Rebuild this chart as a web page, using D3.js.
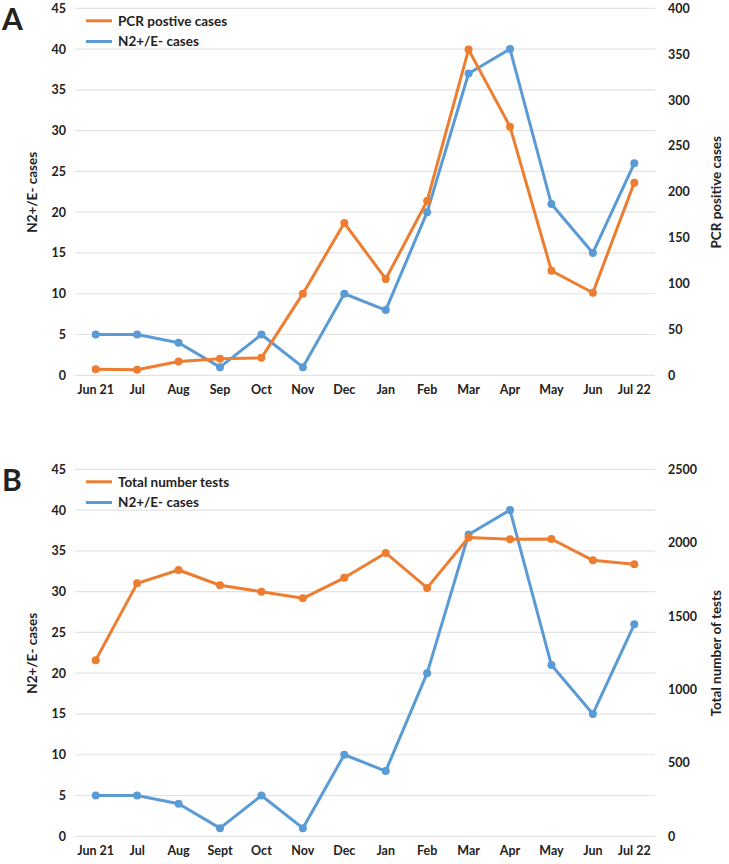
<!DOCTYPE html>
<html>
<head>
<meta charset="utf-8">
<script src="https://cdn.jsdelivr.net/npm/d3@7"></script>
<style>
  html, body { margin: 0; padding: 0; background: #fff; }
  svg { display: block; }
  text { font-family: Lato, "Open Sans", sans-serif; font-weight: bold; fill: #222; }
</style>
</head>
<body>
<svg id="chart" width="729" height="864"></svg>
<script>
// ---- Data ----
const monthsA = ["Jun 21","Jul","Aug","Sep","Oct","Nov","Dec","Jan","Feb","Mar","Apr","May","Jun","Jul 22"];
const monthsB = ["Jun 21","Jul","Aug","Sept","Oct","Nov","Dec","Jan","Feb","Mar","Apr","May","Jun","Jul 22"];
const n2Cases = [5, 5, 4, 1, 5, 1, 10, 8, 20, 37, 40, 21, 15, 26];
const pcrPositive = [6.5, 6, 15, 18, 19, 89, 166, 105, 190, 355, 271, 114, 90, 210];
const totalTests = [1200, 1723, 1814, 1710, 1666, 1621, 1761, 1930, 1692, 2035, 2023, 2025, 1880, 1853];
const leftTicks = [0, 5, 10, 15, 20, 25, 30, 35, 40, 45];
const rightTicksA = [0, 50, 100, 150, 200, 250, 300, 350, 400];
const rightTicksB = [0, 500, 1000, 1500, 2000, 2500];

const ORANGE = "#ED7D31", BLUE = "#5B9BD5", GRID = "#e3e3e3";
const svg = d3.select("#chart");

function styleAxisText(ax) {
  ax.select(".domain").remove();
  ax.selectAll("text").attr("font-size", 12.5).attr("font-family", "Lato, sans-serif")
    .attr("font-weight", "bold").attr("fill", "#222");
}

function panel(opts) {
  const g = svg.append("g");
  const x = d3.scaleBand().domain(opts.cats).range([75, 655]);
  const cx = d => x(d) + x.bandwidth() / 2;
  const yL = d3.scaleLinear().domain([0, 45]).range([opts.bottom, opts.bottom - 367]);
  const yR = d3.scaleLinear().domain([0, opts.rightMax]).range([opts.bottom, opts.bottom - 367]);

  // gridlines
  g.selectAll(".grid").data(leftTicks).join("line")
    .attr("x1", 75).attr("x2", 655)
    .attr("y1", d => yL(d)).attr("y2", d => yL(d))
    .attr("stroke", GRID).attr("stroke-width", 1.2);

  const axL = g.append("g").attr("transform", "translate(75,0)")
    .call(d3.axisLeft(yL).tickValues(leftTicks).tickFormat(d3.format("d")).tickSize(0).tickPadding(9));
  styleAxisText(axL);

  const axR = g.append("g").attr("transform", "translate(655,0)")
    .call(d3.axisRight(yR).tickValues(opts.rightTicks).tickFormat(d3.format("d")).tickSize(0).tickPadding(13));
  styleAxisText(axR);

  const axX = g.append("g").attr("transform", `translate(0,${opts.bottom})`)
    .call(d3.axisBottom(x).tickSize(0).tickPadding(10));
  styleAxisText(axX);

  // axis titles
  g.append("text").attr("transform", `translate(37,${opts.bottom - 183}) rotate(-90)`)
    .attr("text-anchor", "middle").attr("font-size", 13.5).text(opts.leftTitle);
  g.append("text").attr("transform", `translate(721,${opts.bottom - 183}) rotate(-90)`)
    .attr("text-anchor", "middle").attr("font-size", 13.5).text(opts.rightTitle);

  // series
  const series = [
    { vals: opts.blueVals, y: yL, color: BLUE },
    { vals: opts.orangeVals, y: yR, color: ORANGE }
  ];
  series.forEach(s => {
    const pts = opts.cats.map((c, i) => [cx(c), s.y(s.vals[i])]);
    g.append("path").attr("d", d3.line()(pts))
      .attr("fill", "none").attr("stroke", s.color).attr("stroke-width", 3).attr("stroke-linejoin", "round");
    g.selectAll(null).data(pts).join("circle")
      .attr("cx", d => d[0]).attr("cy", d => d[1]).attr("r", 4).attr("fill", s.color);
  });

  // legend
  const top = opts.bottom - 367;
  const leg = [{ label: opts.orangeLabel, color: ORANGE }, { label: "N2+/E- cases", color: BLUE }];
  leg.forEach((l, i) => {
    const yy = top + 12.5 + i * 20.7;
    g.append("line").attr("x1", 86).attr("x2", 112).attr("y1", yy).attr("y2", yy)
      .attr("stroke", l.color).attr("stroke-width", 3);
    g.append("text").attr("x", 118).attr("y", yy).attr("dy", "0.35em")
      .attr("font-size", 13.5).text(l.label);
  });

  // panel letter
  g.append("text").attr("x", 2).attr("y", opts.letterY).attr("font-family", "Arial, 'Liberation Sans', sans-serif")
    .attr("font-size", 30).attr("fill", "#000").text(opts.letter);
}

panel({
  cats: monthsA, bottom: 375.3, rightMax: 400, rightTicks: rightTicksA,
  orangeVals: pcrPositive, blueVals: n2Cases, orangeLabel: "PCR postive cases",
  leftTitle: "N2+/E- cases", rightTitle: "PCR positive cases", letter: "A", letterY: 30
});
panel({
  cats: monthsB, bottom: 836.3, rightMax: 2500, rightTicks: rightTicksB,
  orangeVals: totalTests, blueVals: n2Cases, orangeLabel: "Total number tests",
  leftTitle: "N2+/E- cases", rightTitle: "Total number of tests", letter: "B", letterY: 491
});
</script>
</body>
</html>
